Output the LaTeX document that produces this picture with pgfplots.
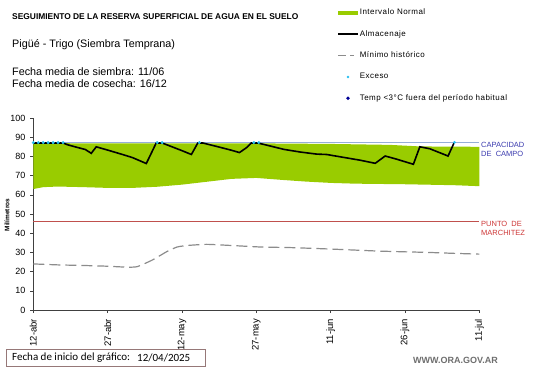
\documentclass[border=0pt]{standalone}
\usepackage{pgfplots}
\pgfplotsset{compat=1.18}
\usepackage{fontspec}
\setmainfont{Liberation Sans}
\newfontfamily\calibri{Carlito}
\newfontfamily\legfont[LetterSpace=6]{Liberation Sans}
\definecolor{normalgreen}{RGB}{153,204,0}
\definecolor{capblue}{RGB}{150,175,215}
\definecolor{marred}{RGB}{192,80,77}
\definecolor{mingrey}{RGB}{140,140,140}
\definecolor{excyan}{RGB}{40,190,240}
\definecolor{tempblue}{RGB}{0,0,150}
\definecolor{lblblue}{RGB}{60,60,175}
\definecolor{lblred}{RGB}{205,55,55}
\definecolor{boxcol}{RGB}{150,120,120}
\definecolor{wwwgrey}{RGB}{110,110,110}
\begin{document}
\begin{tikzpicture}
\useasboundingbox (0pt,0pt) rectangle (541pt,-368pt);
% header texts
\node[anchor=base west, inner sep=0pt, font=\fontsize{8.4}{10}\selectfont\bfseries] at (12pt,-19pt) {SEGUIMIENTO DE LA RESERVA SUPERFICIAL DE AGUA EN EL SUELO};
\node[anchor=base west, inner sep=0pt, font=\fontsize{10.8}{12}\selectfont] at (12pt,-47pt) {Pigüé - Trigo (Siembra Temprana)};
\node[anchor=base west, inner sep=0pt, font=\fontsize{10.8}{12}\selectfont] at (12pt,-75.5pt) {Fecha media de siembra: 11/06};
\node[anchor=base west, inner sep=0pt, font=\fontsize{10.8}{12}\selectfont] at (12pt,-87.5pt) {Fecha media de cosecha: 16/12};
% y label
\node[rotate=90, inner sep=0pt, font=\fontsize{6.5}{8}\selectfont\bfseries] at (7pt,-215pt) {Milímetros};
\begin{axis}[
  at={(33.3pt,-310pt)}, anchor=south west,
  scale only axis, width=446pt, height=192pt,
  xmin=0, xmax=90, ymin=0, ymax=100,
  axis x line*=bottom, axis y line*=left,
  axis line style={-, line width=0.8pt, black!75},
  tick align=outside, major tick length=3pt,
  tick style={line width=0.6pt, black!75},
  xtick={0,15,...,90},
  xticklabels={12-abr,27-abr,12-may,27-may,11-jun,26-jun,11-jul},
  ytick={0,10,...,100},
  /pgf/number format/assume math mode=true,
  x tick label style={rotate=90, anchor=east, font=\fontsize{9.5}{10}\selectfont},
  y tick label style={font=\fontsize{9}{10}\selectfont},
  xticklabel shift=2.5pt,
  yticklabel shift=1.5pt,
  clip=false,
  legend style={at={(0.681,1.573)}, anchor=north west, draw=none, fill=none,
    font=\legfont\fontsize{8}{9}\selectfont, inner sep=0pt, row sep=12.1pt,
    nodes={inner sep=1pt}},
  legend cell align=left,
]
% normal interval
\addplot[fill=normalgreen, draw=none, forget plot] coordinates {
(0,87)(10,86.8)(30,86.8)(45,86.8)(60,86.5)(72,86)(78,85.2)(90,85)
(90,64.5)(85,65)(75,65.5)(65,65.8)(60,66.2)(55,66.9)(50,67.8)(45,68.8)(40,68.3)(35,66.8)(30,65.3)(25,64.2)(20,63.6)(15,63.6)(10,64)(5,64.3)(2,64)(0,63)
} -- cycle;
% capacidad de campo
\addplot[capblue, line width=1pt, forget plot] coordinates {(0,87.3)(90,87.3)};
% punto de marchitez
\addplot[marred, line width=0.8pt, forget plot] coordinates {(0,46)(90,46)};
% minimo historico
\addplot[mingrey, line width=1.2pt, dash pattern=on 11pt off 5pt, smooth, tension=0.3, forget plot] coordinates {
(0,24)(5,23.5)(10,23.2)(15,22.8)(19,22.3)(21,22.6)(24,26)(27,30.5)(29,32.8)(31,33.6)(35,34.2)(40,33.6)(46,32.8)(52,32.5)(59.5,31.8)(65,31.2)(69.6,30.7)(75,30.3)(79.6,30)(85,29.5)(90,29.1)
};
% almacenaje
\addplot[black, line width=1.6pt, forget plot] coordinates {
(0,87)(6,87)(7,86)(9,84.6)(10.5,83.6)(11.7,81.6)(12.7,85)(15,83.3)(18,81)(20,79.4)(22.8,76.3)(23.5,80)(24.8,87)(26,87)(28,85)(30,83)(31.9,81)(33.2,87)(34.2,87)(37,85.2)(40,83.2)(41.6,82)(43,84.5)(44,87)(45.3,87)(48,85.3)(50.5,83.7)(53.8,82.3)(57.2,81.2)(59.2,81)(62.6,79.5)(66,78)(69,76.4)(71,80.2)(73,78.8)(76.7,75.9)(78,85)(80,84)(83.7,80.2)(84.9,87)
};
% exceso
\addplot[only marks, mark=*, mark size=1.3pt, excyan, forget plot] coordinates {
(0,87.2)(1,87.2)(2,87.2)(3,87.2)(4,87.2)(5,87.2)(6,87.2)(25,87.2)(26,87.2)(33.5,87.2)(44.5,87.2)(45.5,87.2)(85,87.3)
};
% legend
\addlegendimage{legend image code/.code={\fill[normalgreen, draw=none] (0pt,-2pt) rectangle (20pt,2pt);}}
\addlegendentry{Intervalo Normal}
\addlegendimage{legend image code/.code={\draw[black, line width=1.6pt] (0pt,0pt) -- (20pt,0pt);}}
\addlegendentry{Almacenaje}
\addlegendimage{legend image code/.code={\draw[mingrey, line width=1.2pt] (0pt,0pt) -- (8pt,0pt); \draw[mingrey, line width=1.2pt] (12pt,0pt) -- (16pt,0pt); \path[draw=none, fill=none] (20pt,0pt) -- (20pt,0.1pt);}}
\addlegendentry{Mínimo histórico}
\addlegendimage{legend image code/.code={\path[draw=none, fill=none] (0pt,0pt) -- (20pt,0pt); \fill[excyan, draw=none] (10pt,0pt) circle (1.3pt);}}
\addlegendentry{Exceso}
\addlegendimage{legend image code/.code={\path[draw=none, fill=none] (0pt,0pt) -- (20pt,0pt); \fill[tempblue, draw=none] (10pt,1.8pt) -- (11.8pt,0pt) -- (10pt,-1.8pt) -- (8.2pt,0pt) -- cycle;}}
\addlegendentry{Temp <3°C fuera del período habitual}
\end{axis}
% right labels
\node[anchor=west, inner sep=0pt, text=lblblue, font=\fontsize{7.5}{8}\selectfont] at (481pt,-145pt) {CAPACIDAD};
\node[anchor=west, inner sep=0pt, text=lblblue, font=\fontsize{7.5}{8}\selectfont] at (481pt,-154pt) {DE\ \ CAMPO};
\node[anchor=west, inner sep=0pt, text=lblred, font=\fontsize{7.5}{8}\selectfont] at (481pt,-224pt) {PUNTO\ \ DE};
\node[anchor=west, inner sep=0pt, text=lblred, font=\fontsize{7.5}{8}\selectfont] at (481pt,-232.7pt) {MARCHITEZ};
% footer
\draw[boxcol, line width=0.8pt] (6pt,-349.5pt) rectangle (205pt,-366pt);
\node[anchor=west, inner sep=0pt, font=\calibri\fontsize{11}{12}\selectfont] at (12pt,-358pt) {Fecha de inicio del gráfico:};
\node[anchor=west, inner sep=0pt, font=\calibri\fontsize{11}{12}\selectfont] at (137pt,-358pt) {12/04/2025};
\node[anchor=west, inner sep=0pt, text=wwwgrey, font=\fontsize{9}{10}\selectfont\bfseries] at (413pt,-360pt) {WWW.ORA.GOV.AR};
\end{tikzpicture}
\end{document}
